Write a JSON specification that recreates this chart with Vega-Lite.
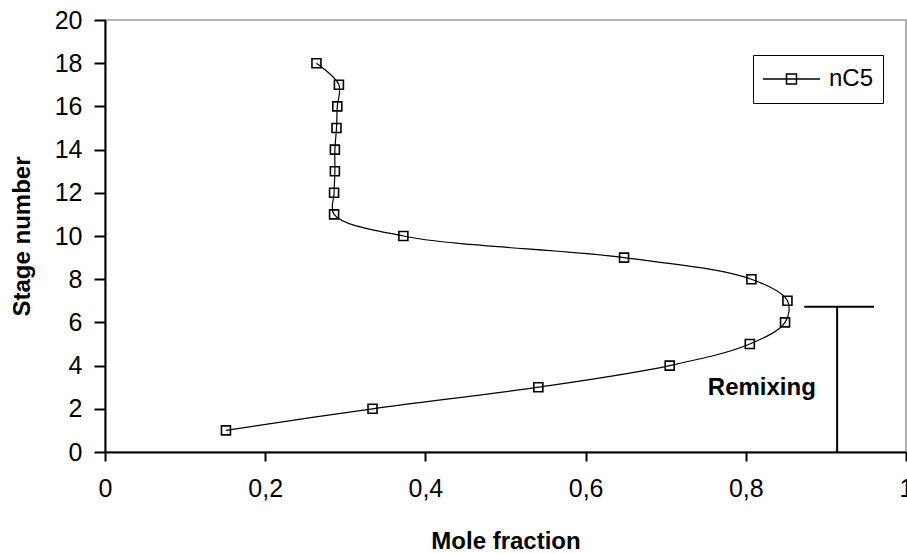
{
  "$schema": "https://vega.github.io/schema/vega-lite/v6.json",
  "width": 801,
  "height": 432,
  "autosize": {"type": "none"},
  "padding": {"left": 105, "top": 20, "right": 1, "bottom": 102},
  "background": "white",
  "config": {
    "font": "Liberation Sans",
    "view": {"stroke": "#9a9a9a", "strokeWidth": 1.5},
    "axis": {"grid": false, "domainColor": "black", "domainWidth": 2, "tickColor": "black", "tickWidth": 2, "labelColor": "black", "titleColor": "black", "labelFont": "Liberation Sans", "titleFont": "Liberation Sans"}
  },
  "datasets": {
    "profile": [
      {"stage": 1, "frac": 0.151, "series": "nC5"},
      {"stage": 2, "frac": 0.334, "series": "nC5"},
      {"stage": 3, "frac": 0.541, "series": "nC5"},
      {"stage": 4, "frac": 0.705, "series": "nC5"},
      {"stage": 5, "frac": 0.805, "series": "nC5"},
      {"stage": 6, "frac": 0.849, "series": "nC5"},
      {"stage": 7, "frac": 0.852, "series": "nC5"},
      {"stage": 8, "frac": 0.807, "series": "nC5"},
      {"stage": 9, "frac": 0.648, "series": "nC5"},
      {"stage": 10, "frac": 0.3725, "series": "nC5"},
      {"stage": 11, "frac": 0.286, "series": "nC5"},
      {"stage": 12, "frac": 0.286, "series": "nC5"},
      {"stage": 13, "frac": 0.287, "series": "nC5"},
      {"stage": 14, "frac": 0.287, "series": "nC5"},
      {"stage": 15, "frac": 0.289, "series": "nC5"},
      {"stage": 16, "frac": 0.290, "series": "nC5"},
      {"stage": 17, "frac": 0.292, "series": "nC5"},
      {"stage": 18, "frac": 0.264, "series": "nC5"}
    ],
    "bracket": [
      {"xs": 0.873, "xe": 0.96, "ys": 6.73, "ye": 6.73},
      {"xs": 0.914, "xe": 0.914, "ys": 0, "ye": 6.73}
    ],
    "label": [
      {"xs": 0.82, "ys": 2.96, "txt": "Remixing"}
    ]
  },
  "layer": [
    {
      "data": {"name": "profile"},
      "mark": {"type": "line", "color": "black", "strokeWidth": 1.2, "interpolate": "catmull-rom"},
      "encoding": {
        "x": {"field": "frac", "type": "quantitative", "scale": {"domain": [0, 1], "nice": false},
          "axis": {"values": [0, 0.2, 0.4, 0.6, 0.8, 1], "labelExpr": "replace(format(datum.value, '~g'), '.', ',')", "labelFontSize": 25, "tickSize": 9, "labelPadding": 15, "title": "Mole fraction", "titleFontSize": 24, "titleFontWeight": "bold", "titlePadding": 28, "labelFlush": false}},
        "y": {"field": "stage", "type": "quantitative", "scale": {"domain": [0, 20], "nice": false},
          "axis": {"values": [0, 2, 4, 6, 8, 10, 12, 14, 16, 18, 20], "labelFontSize": 25, "tickSize": 11, "labelPadding": 12, "title": "Stage number", "titleFontSize": 24, "titleFontWeight": "bold", "titlePadding": 20}},
        "order": {"field": "stage", "type": "quantitative"}
      }
    },
    {
      "data": {"name": "profile"},
      "mark": {"type": "point", "shape": "square", "size": 81, "filled": false, "strokeWidth": 1.6, "opacity": 1},
      "encoding": {
        "x": {"field": "frac", "type": "quantitative"},
        "y": {"field": "stage", "type": "quantitative"},
        "color": {"field": "series", "type": "nominal", "scale": {"domain": ["nC5"], "range": ["black"]},
          "legend": {"orient": "none", "legendX": 648, "legendY": 35, "title": null,
            "symbolType": "M-1,0L1,0M-0.175,-0.175L0.175,-0.175L0.175,0.175L-0.175,0.175Z",
            "symbolSize": 3249, "symbolStrokeWidth": 1.5, "symbolStrokeColor": "black", "symbolFillColor": "transparent",
            "labelFontSize": 24, "labelColor": "black", "labelOffset": 8, "labelFont": "Liberation Sans",
            "clipHeight": 30,
            "strokeColor": "black", "fillColor": "white", "padding": 9}}
      }
    },
    {
      "data": {"name": "bracket"},
      "mark": {"type": "rule", "color": "black", "strokeWidth": 2},
      "encoding": {
        "x": {"field": "xs", "type": "quantitative"},
        "x2": {"field": "xe"},
        "y": {"field": "ys", "type": "quantitative"},
        "y2": {"field": "ye"}
      }
    },
    {
      "data": {"name": "label"},
      "mark": {"type": "text", "fontSize": 24, "fontWeight": "bold", "color": "black", "baseline": "middle", "align": "center", "font": "Liberation Sans"},
      "encoding": {
        "x": {"field": "xs", "type": "quantitative"},
        "y": {"field": "ys", "type": "quantitative"},
        "text": {"field": "txt"}
      }
    }
  ]
}
